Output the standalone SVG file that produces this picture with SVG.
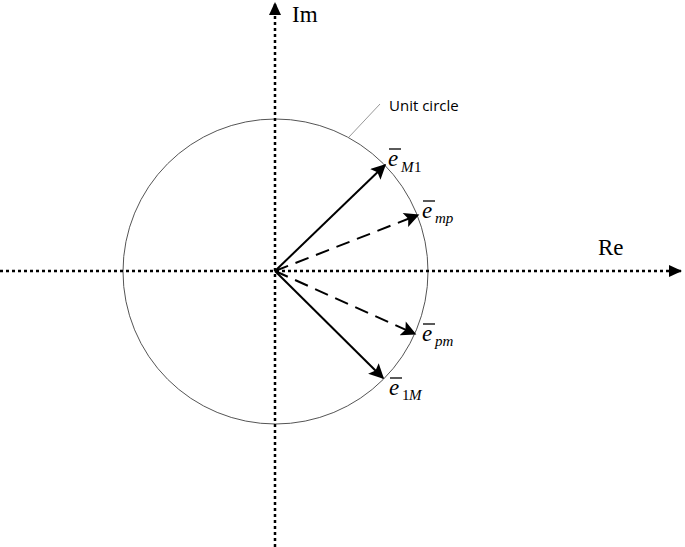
<svg xmlns="http://www.w3.org/2000/svg" width="685" height="547" viewBox="0 0 685 547">
<style>
.axis{stroke:#000;stroke-width:2.5;stroke-dasharray:3,3;fill:none}
.solid{stroke:#000;stroke-width:2;fill:none}
.dash{stroke:#000;stroke-width:2;stroke-dasharray:14,8;fill:none}
.lbl{font-family:"Liberation Serif",serif;fill:#000}
.it{font-style:italic}
.bar{stroke:#000;stroke-width:1.3}
</style>
<defs>
<marker id="ah" viewBox="0 0 13 12" refX="12" refY="6" markerWidth="13" markerHeight="12" markerUnits="userSpaceOnUse" orient="auto"><path d="M0,0 L13,6 L0,12 z" fill="#000"/></marker>
<marker id="ah2" viewBox="0 0 10 10" refX="9" refY="5" markerWidth="17" markerHeight="15" markerUnits="userSpaceOnUse" orient="auto"><path d="M0,0 L10,5 L0,10 L2,5 z" fill="#000"/></marker>
</defs>
<rect width="685" height="547" fill="#fff"/>
<g id="circle"><circle cx="275.5" cy="271.5" r="152.5" fill="none" stroke="#555" stroke-width="1"/></g>
<g id="connectors">
<line class="axis" x1="275" y1="547" x2="275" y2="3" marker-end="url(#ah)"/>
<line class="axis" x1="0" y1="271" x2="681" y2="271" marker-end="url(#ah)"/>
<line x1="275" y1="271" x2="385" y2="165" class="solid" marker-end="url(#ah2)"/>
<line x1="275" y1="271" x2="418" y2="215" class="dash" marker-end="url(#ah2)"/>
<line x1="275" y1="271" x2="415" y2="334" class="dash" marker-end="url(#ah2)"/>
<line x1="275" y1="271" x2="383" y2="378" class="solid" marker-end="url(#ah2)"/>
<line x1="349" y1="137" x2="380" y2="104" stroke="#999" stroke-width="1"/>
</g>
<g id="axis-labels">
<text class="lbl" x="292" y="22" font-size="23">Im</text>
<text class="lbl" x="598" y="255" font-size="23">Re</text>
</g>
<g id="unit-label"><text x="389" y="111" font-family="'Open Sans','Liberation Sans',sans-serif" font-size="15" fill="#000">Unit circle</text></g>
<g id="lbl-eM1"><line class="bar" x1="389" y1="149" x2="401" y2="149"/><text class="lbl it" x="388" y="166" font-size="23">e</text><text class="lbl it" x="401" y="172" font-size="15">M</text><text class="lbl" x="414" y="172" font-size="15">1</text></g>
<g id="lbl-emp"><line class="bar" x1="423" y1="201" x2="435" y2="201"/><text class="lbl it" x="422" y="218" font-size="23">e</text><text class="lbl it" x="435" y="223" font-size="15">mp</text></g>
<g id="lbl-epm"><line class="bar" x1="423" y1="324" x2="435" y2="324"/><text class="lbl it" x="422" y="341" font-size="23">e</text><text class="lbl it" x="435" y="346" font-size="15">pm</text></g>
<g id="lbl-e1M"><line class="bar" x1="390" y1="378" x2="402" y2="378"/><text class="lbl it" x="389" y="395" font-size="23">e</text><text class="lbl" x="402" y="400" font-size="15">1</text><text class="lbl it" x="409" y="400" font-size="15">M</text></g>
</svg>
